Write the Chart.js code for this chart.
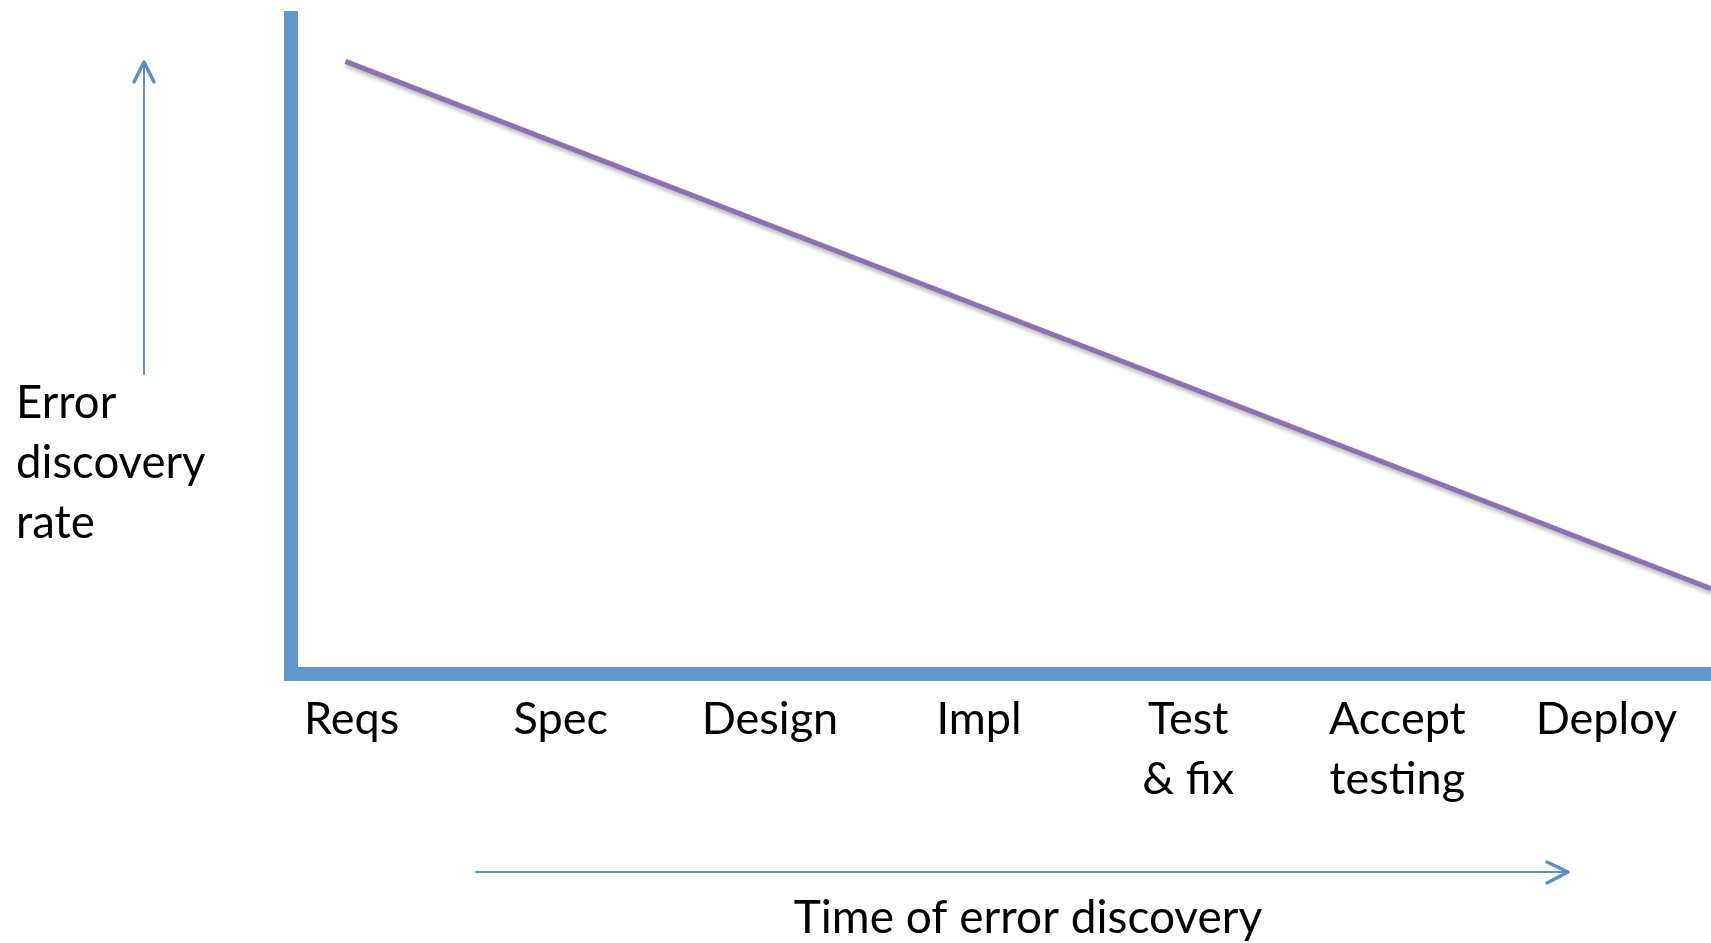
<!DOCTYPE html>
<html>
<head>
<meta charset="utf-8">
<script src="https://cdn.jsdelivr.net/npm/chart.js@4/dist/chart.umd.min.js"></script>
<style>
  html, body { margin: 0; padding: 0; background: #fff; }
  #wrap { width: 1711px; height: 943px; position: relative; }
</style>
</head>
<body>
<div id="wrap"><canvas id="myChart"></canvas></div>
<script>
const stages = [
    'Reqs',
    'Spec',
    'Design',
    'Impl',
    ['Test', '& fix'],
    ['Accept', 'testing'],
    'Deploy'
];

// stage index (x) and discovery rate (y)
const lineX = [-0.03, 6.5];
const lineY = [93.4, 13.0];

const yTitle = ['Error', 'discovery', 'rate'];
const xTitle = 'Time of error discovery';

const fontName = 'Lato, "Open Sans", sans-serif';
const axisBlue = '#6396c9';
const arrowBlue = '#5b8fcb';

// arrows and the two axis titles, drawn around the chart area
const decorations = {
    id: 'decorations',
    afterDraw(chart) {
        const ctx = chart.ctx;
        ctx.save();
        ctx.strokeStyle = arrowBlue;
        ctx.lineCap = 'round';
        ctx.lineJoin = 'round';

        // up arrow
        ctx.lineWidth = 2;
        ctx.beginPath();
        ctx.moveTo(144, 374);
        ctx.lineTo(144, 63);
        ctx.stroke();
        ctx.lineWidth = 3.5;
        ctx.beginPath();
        ctx.moveTo(134, 82);
        ctx.lineTo(144, 62);
        ctx.lineTo(154, 82);
        ctx.stroke();

        // right arrow
        ctx.lineWidth = 2;
        ctx.beginPath();
        ctx.moveTo(476, 872);
        ctx.lineTo(1566, 872);
        ctx.stroke();
        ctx.lineWidth = 3.5;
        ctx.beginPath();
        ctx.moveTo(1547, 862);
        ctx.lineTo(1568, 872);
        ctx.lineTo(1547, 883);
        ctx.stroke();

        ctx.fillStyle = '#000';
        ctx.font = '45.5px ' + fontName;
        ctx.textBaseline = 'middle';
        ctx.textAlign = 'left';
        yTitle.forEach((t, i) => ctx.fillText(t, 16, 403 + i * 60));

        ctx.font = '46px ' + fontName;
        ctx.textAlign = 'center';
        ctx.fillText(xTitle, 1028, 918);
        ctx.restore();
    }
};

// soft drop shadow under the purple line
const lineShadow = {
    id: 'lineShadow',
    beforeDatasetDraw(chart) {
        const ctx = chart.ctx;
        ctx.save();
        ctx.shadowColor = 'rgba(0,0,0,0.3)';
        ctx.shadowBlur = 4;
        ctx.shadowOffsetX = 1;
        ctx.shadowOffsetY = 3;
    },
    afterDatasetDraw(chart) {
        chart.ctx.restore();
    }
};

const config = {
    type: 'line',
    data: {
        datasets: [{
            data: lineX.map((x, i) => ({ x: x, y: lineY[i] })),
            borderColor: '#8c72b3',
            borderWidth: 5,
            pointRadius: 0,
            tension: 0
        }]
    },
    options: {
        responsive: true,
        maintainAspectRatio: false,
        animation: false,
        layout: { padding: { top: 18, left: 0, right: 0, bottom: 0 } },
        plugins: {
            legend: { display: false },
            tooltip: { enabled: false }
        },
        scales: {
            x: {
                type: 'linear',
                min: -0.29,
                max: 6.5,
                afterBuildTicks: scale => {
                    scale.ticks = stages.map((s, i) => ({ value: i }));
                },
                afterFit: scale => { scale.height = 269; },
                ticks: {
                    color: '#000',
                    font: { family: fontName, size: 45, lineHeight: 1.32 },
                    padding: 16,
                    maxRotation: 0,
                    autoSkip: false,
                    callback: (v, i) => stages[i]
                },
                grid: { display: false, drawTicks: false },
                border: { display: true, color: axisBlue, width: 14 }
            },
            y: {
                min: 0,
                max: 100,
                afterFit: scale => { scale.width = 291; },
                ticks: { display: false },
                grid: { display: false, drawTicks: false },
                border: { display: true, color: axisBlue, width: 14 }
            }
        }
    },
    plugins: [lineShadow, decorations]
};

const myChart = new Chart(
    document.getElementById('myChart'),
    config
);
</script>
</body>
</html>
